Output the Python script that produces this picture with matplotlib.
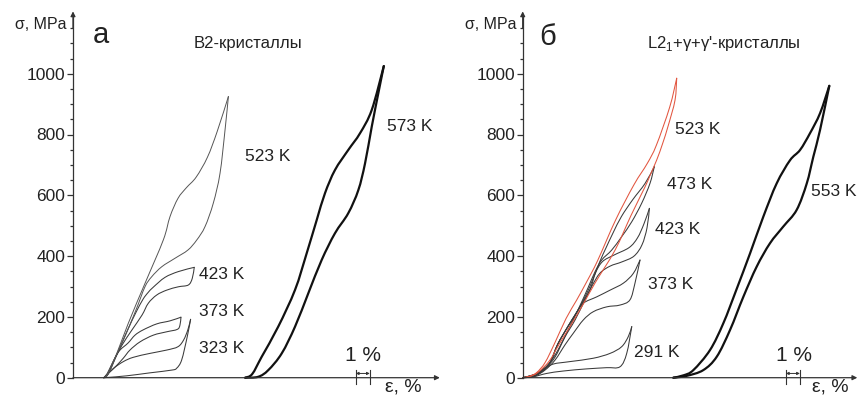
import matplotlib
matplotlib.use("Agg")
import matplotlib.pyplot as plt
from matplotlib.path import Path
from matplotlib.patches import PathPatch
import numpy as np

plt.rcParams['font.family'] = ['Liberation Sans', 'DejaVu Sans']

# ---- panel a: B2 crystals, (strain %, stress MPa) ----
a323_load = [(2.2,0),(2.9,31),(3.6,53),(4.3,67),(5.5,80),(6.7,91),(7.5,102),(7.9,124),(8.2,157),(8.4,192)]
a323_unload = [(8.4,192),(8.16,135),(7.76,58),(7.4,31),(7.05,25),(5.5,16),(3.8,6),(2.5,1),(2.2,0)]
a373_load = [(2.2,0),(2.45,8),(2.7,32),(3.0,65),(3.36,91),(3.93,114),(4.43,140),(5.0,157),(5.98,177),(6.93,187),(7.71,199)]
a373_unload = [(7.71,199),(7.64,173),(7.45,159),(6.69,151),(5.74,140),(4.79,118),(4.07,91),(3.59,64),(3.07,38),(2.64,19),(2.2,0)]
a423_load = [(2.2,0),(2.45,8),(2.8,40),(3.36,100),(3.93,160),(4.5,215),(5.0,258),(5.36,280),(5.74,298),(6.57,330),(7.52,349),(8.66,363)]
a423_unload = [(8.66,363),(8.52,327),(8.24,305),(7.52,299),(6.69,288),(5.98,272),(5.38,245),(4.93,206),(4.21,157),(3.5,107),(2.86,52),(2.45,14),(2.2,0)]
a523_load = [(2.2,0),(2.45,8),(2.8,40),(3.95,179),(5.14,310),(6.45,453),(6.93,530),(7.5,590),(8.1,625),(8.8,660),(9.6,725),(10.3,810),(11.1,925)]
a523_unload = [(11.1,925),(10.86,815),(10.5,672),(10.02,574),(9.43,497),(8.84,453),(8.21,420),(7.29,393),(6.34,365),(5.62,332),(5.14,299),(4.5,223),(3.6,124),(2.85,52),(2.45,12),(2.2,0)]
a573_load = [(12.3,0),(12.8,12),(13.48,69),(14.66,168),(15.86,289),(16.69,409),(17.41,519),(18.0,607),(18.71,683),(19.66,749),(20.5,804),(21.34,881),(22.2,1025)]
a573_unload = [(22.2,1025),(21.81,936),(21.34,826),(20.86,705),(20.38,617),(19.66,541),(18.71,475),(17.76,387),(16.81,278),(15.86,168),(14.91,80),(13.95,25),(13.23,3),(12.3,0)]

# ---- panel b: L2_1+gamma+gamma' crystals ----
b291_load = [(0,0),(0.52,2),(1.09,12),(1.59,29),(2.19,45),(3.38,53),(5.04,64),(6.24,80),(7.07,102),(7.54,135),(7.79,168)]
b291_unload = [(7.79,168),(7.43,80),(6.95,36),(6.0,33),(4.57,29),(2.9,22),(1.71,14),(0.76,3),(0,0)]
b373_load = [(0,0),(0.76,9),(1.24,20),(1.95,50),(2.5,110),(3.25,170),(3.8,210),(4.33,245),(5.29,266),(6.24,288),(7.19,311),(7.9,343),(8.38,387)]
b373_unload = [(8.38,387),(8.02,311),(7.66,256),(6.95,239),(6.0,233),(5.04,217),(4.33,190),(3.61,146),(3.02,108),(2.31,58),(1.59,25),(0.88,6),(0,0)]
b423_load = [(0,0),(0.76,9),(1.24,20),(1.95,50),(2.5,110),(3.25,170),(4.05,230),(4.8,289),(5.2,345),(5.7,382),(6.5,403),(7.6,428),(8.2,460),(8.66,506),(9.05,557)]
b423_unload = [(9.05,557),(8.88,493),(8.52,437),(7.95,400),(7.09,381),(6.24,367),(5.52,344),(4.95,302),(4.45,256),(3.74,190),(3.02,134),(2.31,68),(1.59,29),(0.88,6),(0,0)]
b473_load = [(0,0),(0.76,9),(1.24,20),(1.95,50),(2.5,110),(3.25,170),(4.05,230),(4.8,300),(5.5,381),(5.95,427),(6.45,476),(7.05,530),(7.85,585),(8.74,639),(9.4,694)]
b473_unload = [(9.4,694),(9.09,639),(8.5,574),(7.79,513),(7.07,464),(6.36,420),(5.64,387),(5.16,348),(4.66,295),(3.95,223),(3.24,157),(2.52,91),(1.81,42),(1.02,12),(0,0)]
b523_load = [(0,0),(0.5,5),(1.0,17),(1.6,50),(2.3,115),(3.1,195),(3.85,255),(4.6,318),(5.35,385),(6.65,520),(7.95,635),(8.9,705),(9.55,765),(10.5,890),(11.0,985)]
b523_unload = [(11.0,985),(10.88,913),(10.4,830),(10.0,771),(9.57,716),(9.09,665),(8.74,628),(7.75,535),(6.6,420),(5.16,311),(4.3,240),(3.4,170),(2.6,110),(1.9,55),(1.1,18),(0.5,4),(0,0)]
b553_load = [(10.76,0),(11.5,8),(12.19,25),(13.38,91),(14.33,179),(15.26,289),(16.24,409),(17.19,530),(18.14,639),(19.09,715),(19.81,749),(20.52,804),(21.24,870),(21.9,960)]
b553_unload = [(21.9,960),(21.24,815),(20.76,727),(20.29,639),(19.57,552),(18.61,497),(17.66,442),(16.71,365),(15.76,266),(14.81,157),(13.86,69),(12.9,25),(11.71,6),(10.76,0)]

# labels: text, strain, stress
a_labels = [("523 K", 12.3, 727), ("573 K", 22.4, 825), ("423 K", 9.0, 341), ("373 K", 9.0, 217), ("323 K", 9.0, 97)]
b_labels = [("523 K", 10.9, 815), ("473 K", 10.3, 634), ("423 K", 9.45, 486), ("373 K", 8.95, 307), ("291 K", 7.95, 84), ("553 K", 20.6, 612)]

W, H = 859, 396
PX = 14.0     # pixels per 1 % strain
PY = 0.304    # pixels per MPa
Y0 = 377.7    # pixel row of zero stress

fig = plt.figure(figsize=(W/100, H/100), dpi=100)
axc = '#333333'
txtc = '#222222'


def make_axes(left_px, right_px, x0_px, xend):
    ax = fig.add_axes([left_px/W, 0, (right_px-left_px)/W, 1])
    ax.set_xlim((left_px-x0_px)/PX, (right_px-x0_px)/PX)
    ax.set_ylim(-(H-Y0)/PY, Y0/PY)
    ax.patch.set_visible(False)
    for s in ['top', 'right', 'bottom']:
        ax.spines[s].set_visible(False)
    ax.spines['left'].set_position(('data', 0))
    ax.spines['left'].set_bounds(0, 1190)
    ax.spines['left'].set_color(axc)
    ax.spines['left'].set_linewidth(0.9)
    ax.set_xticks([])
    ax.set_yticks(range(0, 1001, 200))
    ax.set_yticks(np.arange(50, 1200, 50), minor=True)
    ax.tick_params(axis='y', which='major', direction='out', length=4, width=0.9,
                   pad=1.5, labelsize=12.5, colors=axc, labelcolor=txtc)
    ax.tick_params(axis='y', which='minor', direction='out', length=2.5, width=0.9, colors=axc)
    ax.annotate('', xy=(0, 1205), xytext=(0, 1150),
                arrowprops=dict(arrowstyle='-|>', color=axc, lw=0.9, mutation_scale=7,
                                shrinkA=0, shrinkB=0))
    ax.annotate('', xy=(xend, 0), xytext=(0, 0),
                arrowprops=dict(arrowstyle='-|>', color=axc, lw=0.9, mutation_scale=7,
                                shrinkA=0, shrinkB=0))
    ax.text(-0.45, 1163, 'σ, MPa', ha='right', va='center', fontsize=11.5, color=txtc)
    return ax


def smooth_path(seg):
    # cubic Bezier through the read points (Catmull-Rom tangents), drawn by matplotlib
    p = np.array(seg, dtype=float)
    # work in pixel-like units so tangents are not skewed by the axis scales
    q = p * [PX, PY]
    verts = [tuple(p[0])]
    codes = [Path.MOVETO]
    n = len(q)
    for i in range(n - 1):
        q0 = q[i - 1] if i > 0 else q[i]
        q3 = q[i + 2] if i + 2 < n else q[i + 1]
        c1 = q[i] + (q[i + 1] - q0) / 6.0
        c2 = q[i + 1] - (q3 - q[i]) / 6.0
        verts += [tuple(c1 / [PX, PY]), tuple(c2 / [PX, PY]), tuple(p[i + 1])]
        codes += [Path.CURVE4] * 3
    return Path(verts, codes)


def loop(ax, load, unload, color, lw):
    for seg in (load, unload):
        ax.add_patch(PathPatch(smooth_path(seg), fill=False, edgecolor=color, lw=lw,
                               joinstyle='round', capstyle='round'))


def scale_bar(ax, e0):
    for e in (e0, e0 + 1):
        ax.plot([e, e], [-21, 25], color=axc, lw=0.8)
    ax.annotate('', xy=(e0 + 1, 14), xytext=(e0, 14),
                arrowprops=dict(arrowstyle='<|-|>', color=axc, lw=0.7, mutation_scale=4,
                                shrinkA=0, shrinkB=0))
    ax.text(e0 + 0.55, 72, '1 %', ha='center', va='center', fontsize=15, color=txtc)


thin = '#3a3a3a'

# panel a
ax1 = make_axes(0, 445, 73, 26.2)
loop(ax1, a323_load, a323_unload, thin, 0.75)
loop(ax1, a373_load, a373_unload, thin, 0.75)
loop(ax1, a423_load, a423_unload, thin, 0.75)
loop(ax1, a523_load, a523_unload, '#555555', 0.7)
loop(ax1, a573_load, a573_unload, '#111111', 1.6)
for t, e, s in a_labels:
    ax1.text(e, s, t, ha='left', va='center', fontsize=12.5, color=txtc)
scale_bar(ax1, 20.2)
ax1.text(22.3, -58, 'ε, %', ha='left', va='bottom', fontsize=14, color=txtc)
ax1.text(1.4, 1127, 'а', ha='left', va='center', fontsize=21, color=txtc)
ax1.text(8.6, 1100, 'B2-кристаллы', ha='left', va='center', fontsize=12, color=txtc)

# panel b
ax2 = make_axes(445, 859, 522.7, 23.9)
loop(ax2, b291_load, b291_unload, thin, 0.75)
loop(ax2, b373_load, b373_unload, thin, 0.75)
loop(ax2, b423_load, b423_unload, thin, 0.75)
loop(ax2, b473_load, b473_unload, thin, 0.75)
loop(ax2, b523_load, b523_unload, '#e2553f', 0.75)
loop(ax2, b553_load, b553_unload, '#111111', 1.6)
for t, e, s in b_labels:
    ax2.text(e, s, t, ha='left', va='center', fontsize=12.5, color=txtc)
scale_bar(ax2, 18.8)
ax2.text(20.7, -58, 'ε, %', ha='left', va='bottom', fontsize=14, color=txtc)
ax2.text(1.2, 1122, 'б', ha='left', va='center', fontsize=21, color=txtc)
ax2.text(8.85, 1100, "L2$_\\mathregular{1}$+γ+γ'-кристаллы", ha='left', va='center',
         fontsize=12, color=txtc)

fig.savefig('out.png', dpi=100)
